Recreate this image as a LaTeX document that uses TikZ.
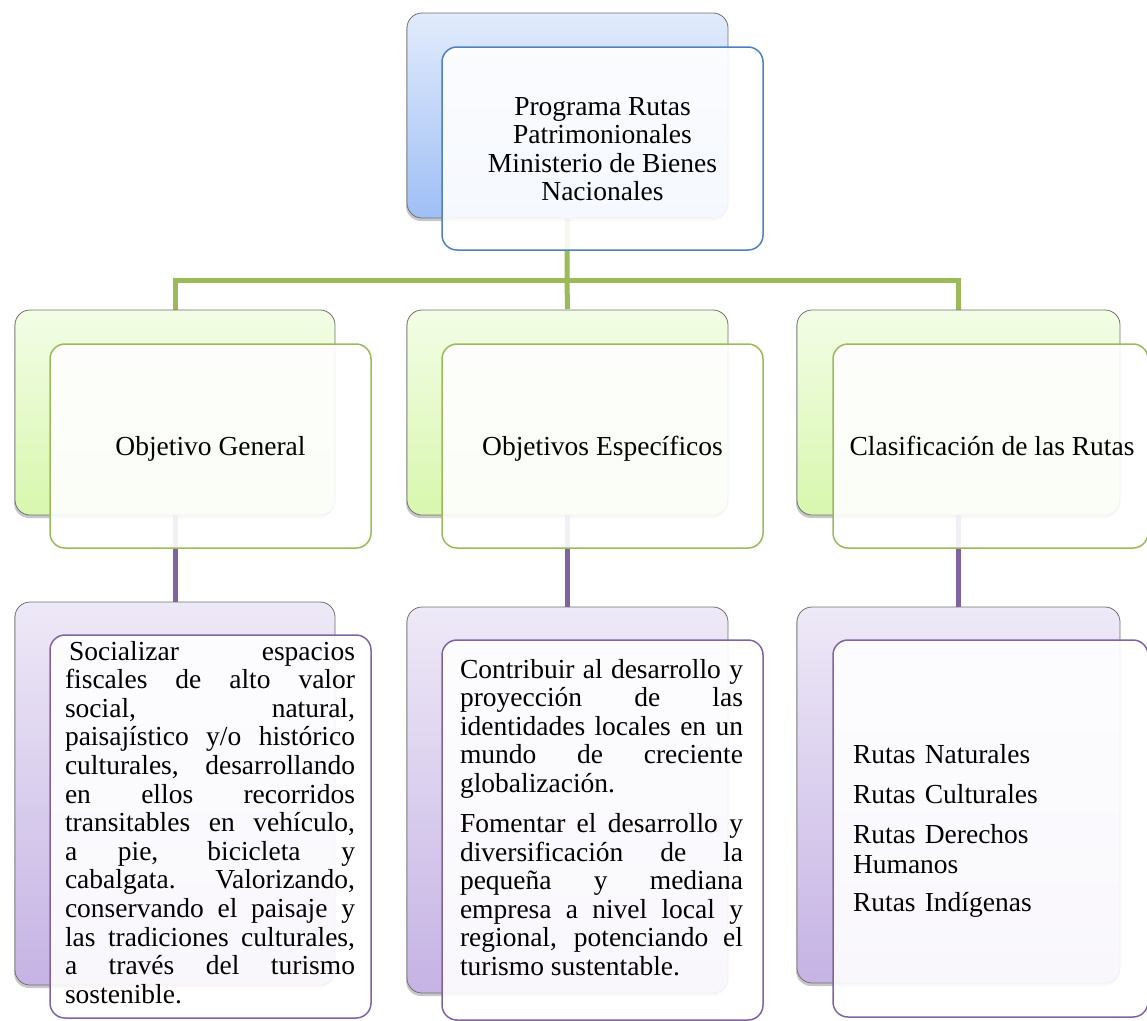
\documentclass[tikz,border=0pt]{standalone}
\usepackage{fontspec}
\setmainfont{Liberation Serif}
\usetikzlibrary{shadows}
\definecolor{bluetop}{HTML}{E2EBFC}
\definecolor{bluebot}{HTML}{9FBFF5}
\definecolor{blueline}{HTML}{4F81BD}
\definecolor{greentop}{HTML}{F3FDE6}
\definecolor{greenbot}{HTML}{D8F7AE}
\definecolor{greenline}{HTML}{9BBB59}
\definecolor{purptop}{HTML}{EEE9F7}
\definecolor{purpbot}{HTML}{C5B3E4}
\definecolor{purpline}{HTML}{8064A2}
\definecolor{backedge}{HTML}{707070}
\tikzset{
  box/.style={rectangle, rounded corners=15pt, inner sep=0pt, outer sep=0pt},
  backbox/.style={box, draw=backedge, line width=0.8pt,
    drop shadow={shadow xshift=-1pt, shadow yshift=-3pt, opacity=0.22, fill=black}},
  bluebox/.style={backbox, top color=bluetop, bottom color=bluebot},
  greenbox/.style={backbox, top color=greentop, bottom color=greenbot},
  purpbox/.style={backbox, top color=purptop, bottom color=purpbot},
  frontbox/.style={box, fill=white, fill opacity=0.9, line width=1.5pt},
  conn/.style={line width=5pt},
  txt/.style={inner sep=0pt, outer sep=0pt, text=black, font=\fontsize{27.5}{28.6}\selectfont},
}
\begin{document}
\begin{tikzpicture}[x=1pt, y=-1pt]
\useasboundingbox (0,0) rectangle (1147,1020);
\clip (0,0) rectangle (1147,1020);
\coordinate (bus) at (567,280);
\coordinate (topS) at (567.5,218);
% connectors (drawn under boxes)
\draw[conn, greenline] (topS) -- (bus);
\draw[conn, greenline, line cap=rect] (175,309) |- (bus) -| (958.5,309);
\draw[conn, greenline] (bus) -- (567.5,309);
\draw[conn, purpline] (175,515) -- (175,602);
\draw[conn, purpline] (567.5,515) -- (567.5,607);
\draw[conn, purpline] (958.5,515) -- (958.5,607);
% top
\node[bluebox, minimum width=321pt, minimum height=205pt] (topB) at (567.5,115.5) {};
\node[frontbox, draw=blueline, minimum width=321pt, minimum height=203pt] (topF) at (602.5,148.5) {};
% level 2
\node[greenbox, minimum width=320pt, minimum height=205pt] (ogB) at (175,412.5) {};
\node[greenbox, minimum width=321pt, minimum height=205pt] (oeB) at (567.5,412.5) {};
\node[greenbox, minimum width=323pt, minimum height=205pt] (crB) at (958.5,412.5) {};
\node[frontbox, draw=greenline, minimum width=321pt, minimum height=204pt] (ogF) at (210.5,446) {};
\node[frontbox, draw=greenline, minimum width=321pt, minimum height=204pt] (oeF) at (602.5,446) {};
\node[frontbox, draw=greenline, minimum width=315pt, minimum height=204pt] (crF) at (990.5,446) {};
% level 3
\node[purpbox, minimum width=320pt, minimum height=383pt] (sgB) at (175,793.5) {};
\node[purpbox, minimum width=321pt, minimum height=386pt] (seB) at (567.5,800) {};
\node[purpbox, minimum width=323pt, minimum height=376pt] (scB) at (958.5,795) {};
\node[frontbox, draw=purpline, minimum width=321pt, minimum height=383pt] (sgF) at (210.5,826.5) {};
\node[frontbox, draw=purpline, minimum width=321pt, minimum height=380pt] (seF) at (602.5,830) {};
\node[frontbox, draw=purpline, minimum width=315pt, minimum height=377pt] (scF) at (990.5,828.5) {};
% texts
\node[txt, align=center, anchor=north] (topT) at (602.5,95)
  {\strut Programa Rutas\\Patrimonionales\\Ministerio de Bienes\\Nacionales};
\node[txt, anchor=base] (ogT) at (210.5,455) {Objetivo General};
\node[txt, anchor=base] (oeT) at (602.5,455) {Objetivos Específicos};
\node[txt, anchor=base] (crT) at (992,455) {Clasificación de las Rutas};
\node[txt, anchor=north west, text width=290pt, align=justify] (sgT) at (65,640)
  {\strut\hspace*{4pt}Socializar espacios\linebreak fiscales de alto valor\linebreak social, natural,\linebreak paisajístico y/o histórico\linebreak culturales, desarrollando\linebreak en ellos recorridos\linebreak transitables en vehículo,\linebreak a pie, bicicleta y\linebreak cabalgata. Valorizando,\linebreak conservando el paisaje y\linebreak las tradiciones culturales,\linebreak a través del turismo\linebreak sostenible.};
\node[txt, anchor=north west, text width=283pt, align=justify] (seT) at (460,658)
  {\setlength{\parskip}{11.4pt}\strut Contribuir al desarrollo y\linebreak proyección de las\linebreak identidades locales en un\linebreak mundo de creciente\linebreak globalización.\par
  \strut Fomentar el desarrollo y\linebreak diversificación de la\linebreak pequeña y mediana\linebreak empresa a nivel local y\linebreak regional, potenciando el\linebreak turismo sustentable.};
\node[txt, anchor=north west, text width=250pt, align=left] (scT) at (853,742)
  {\fontsize{27.5}{30}\selectfont\setlength{\parskip}{10pt}\strut Rutas Naturales\par\strut Rutas Culturales\par\strut Rutas Derechos\\Humanos\par\strut Rutas Indígenas};
\end{tikzpicture}
\end{document}
